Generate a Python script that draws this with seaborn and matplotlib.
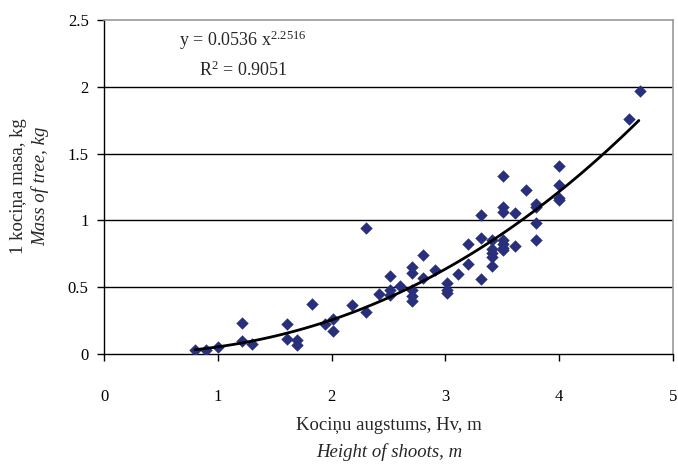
import numpy as np
import pandas as pd
import matplotlib
matplotlib.use("Agg")
import matplotlib.pyplot as plt
import seaborn as sns

# shoot height (m) and tree mass (kg)
height = [0.80, 0.90, 1.00, 1.21, 1.21, 1.30, 1.61, 1.61, 1.70, 1.70,
          1.83, 1.94, 2.01, 2.01, 2.18, 2.30, 2.30, 2.42, 2.51, 2.51,
          2.51, 2.60, 2.71, 2.71, 2.71, 2.71, 2.71, 2.80, 2.80, 2.91,
          3.01, 3.01, 3.01, 3.11, 3.20, 3.20, 3.31, 3.31, 3.31, 3.41,
          3.41, 3.41, 3.41, 3.41, 3.51, 3.51, 3.51, 3.51, 3.51, 3.51,
          3.51, 3.61, 3.61, 3.71, 3.80, 3.80, 3.80, 3.80, 4.00, 4.00,
          4.00, 4.00, 4.61, 4.71]
mass = [0.03, 0.03, 0.05, 0.235, 0.095, 0.075, 0.225, 0.11, 0.105, 0.07,
        0.377, 0.225, 0.26, 0.175, 0.367, 0.942, 0.315, 0.447, 0.587, 0.48,
        0.44, 0.51, 0.65, 0.605, 0.48, 0.435, 0.40, 0.742, 0.567, 0.63,
        0.53, 0.48, 0.455, 0.60, 0.822, 0.672, 1.042, 0.872, 0.56, 0.855,
        0.785, 0.755, 0.725, 0.66, 1.334, 1.097, 1.06, 0.855, 0.825, 0.79,
        0.775, 1.055, 0.81, 1.224, 1.124, 1.10, 0.984, 0.85, 1.404, 1.265,
        1.167, 1.155, 1.76, 1.97]

# power trend line shown on the chart
coef_a = 0.0536
coef_b = 2.2516
r_squared = 0.9051
trend_range = [0.8, 4.7]

x_ticks = [0, 1, 2, 3, 4, 5]
y_ticks = [0, 0.5, 1, 1.5, 2, 2.5]
y_tick_labels = ["0", "0.5", "1", "1.5", "2", "2.5"]

df = pd.DataFrame({"height": height, "mass": mass})
trend_x = np.linspace(trend_range[0], trend_range[1], 100)
trend = pd.DataFrame({"height": trend_x, "mass": coef_a * trend_x ** coef_b})

sns.set_theme(style="white")
plt.rcParams["font.family"] = ["Liberation Serif", "DejaVu Serif"]
plt.rcParams["mathtext.fontset"] = "custom"
plt.rcParams["mathtext.rm"] = "Liberation Serif"
plt.rcParams["mathtext.it"] = "Liberation Serif:italic"

fig = plt.figure(figsize=(6.78, 4.65), dpi=100)
ax = fig.add_axes([0.1534, 0.2387, 0.8392, 0.7183])

for yv in y_ticks[1:-1]:
    ax.axhline(yv, color="black", lw=1, zorder=0)

sns.scatterplot(data=df, x="height", y="mass", marker="D", s=40,
                color="#29307b", edgecolor="#29307b", linewidth=0, ax=ax, zorder=3)
sns.lineplot(data=trend, x="height", y="mass", color="black", lw=2, ax=ax, zorder=4)

ax.set_xlim(0, 5)
ax.set_ylim(0, 2.5)
ax.set_xticks(x_ticks)
ax.set_yticks(y_ticks)
ax.set_xticklabels([str(t) for t in x_ticks])
ax.set_yticklabels(y_tick_labels)
ax.tick_params(axis="both", direction="out", length=5, width=1, colors="black",
               labelsize=12, bottom=True, left=True)
ax.tick_params(axis="x", pad=20)
ax.tick_params(axis="y", pad=6)
ax.set_xlabel("")
ax.set_ylabel("")

for side in ["left", "bottom"]:
    ax.spines[side].set_color("black")
    ax.spines[side].set_linewidth(1)
for side in ["top", "right"]:
    ax.spines[side].set_color("#999999")
    ax.spines[side].set_linewidth(1.2)

ax.text(1.22, 2.35, "y = %.4f x$^{%.4f}$" % (coef_a, coef_b), ha="center",
        va="center", fontsize=13)
ax.text(1.22, 2.12, "R$^{2}$ = %.4f" % r_squared, ha="center", va="center",
        fontsize=13)

fig.text(0.027, 0.6, "1 kociņa masa, kg", rotation=90, ha="center", va="center",
         fontsize=13.5)
fig.text(0.059, 0.6, "Mass of tree, kg", rotation=90, ha="center", va="center",
         fontsize=13.5, style="italic")
fig.text(0.574, 0.085, "Kociņu augstums, Hv, m", ha="center", va="center",
         fontsize=13.5)
fig.text(0.574, 0.028, "Height of shoots, m", ha="center", va="center",
         fontsize=13.5, style="italic")

fig.savefig("out.png", dpi=100)
